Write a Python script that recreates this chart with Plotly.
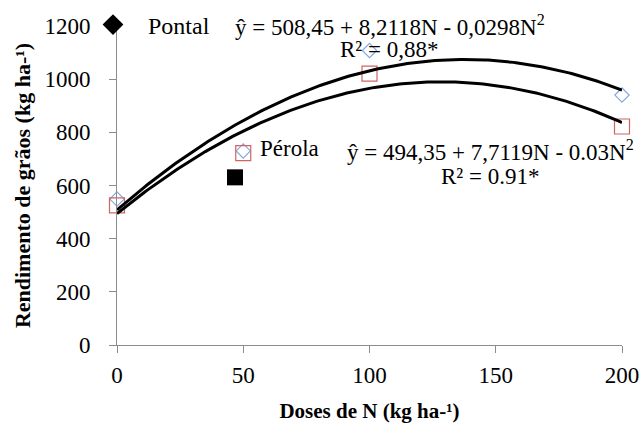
import numpy as np
import plotly.graph_objects as go

# ---- data ----
doses = [0, 50, 100, 200]
pontal = [549, 730, 1108, 940]
perola = [525, 722, 1021, 822]
pontal_coef = [508.45, 8.2118, -0.0298]   # y = a + bN + cN^2
perola_coef = [494.35, 7.7119, -0.03]
x_ticks = [0, 50, 100, 150, 200]
y_ticks = [0, 200, 400, 600, 800, 1000, 1200]

FONT = "Liberation Serif, Times New Roman, serif"
AX = "#8c8c8c"

n_curve = np.linspace(0, 200, 201)


def quad(c, n):
    return c[0] + c[1] * n + c[2] * n ** 2


fig = go.Figure()

# observed points
fig.add_trace(go.Scatter(
    x=doses, y=pontal, mode="markers", showlegend=False, cliponaxis=False,
    marker=dict(symbol="diamond-open", size=11, color="#86a8dc",
                line=dict(width=1.2, color="#86a8dc"))))
fig.add_trace(go.Scatter(
    x=doses, y=perola, mode="markers", showlegend=False, cliponaxis=False,
    marker=dict(symbol="square-open", size=15, color="#d06464",
                line=dict(width=1.2, color="#d06464"))))

# fitted curves
fig.add_trace(go.Scatter(x=n_curve, y=quad(pontal_coef, n_curve), mode="lines",
                         showlegend=False, line=dict(color="black", width=3)))
fig.add_trace(go.Scatter(x=n_curve, y=quad(perola_coef, n_curve), mode="lines",
                         showlegend=False, line=dict(color="black", width=3)))

# legend keys
fig.add_trace(go.Scatter(x=[None], y=[None], mode="markers", name="Pontal",
                         legend="legend",
                         marker=dict(symbol="diamond", size=16, color="black")))
fig.add_trace(go.Scatter(x=[None], y=[None], mode="markers",
                         name="Pérola<br>&nbsp;", legend="legend2",
                         marker=dict(symbol="square", size=16, color="black")))

W, H = 641, 423
L, R, T, B = 117, 19, 26, 78
pw, ph = W - L - R, H - T - B


def px(x):
    return (x - L) / pw


def py(y):
    return (H - B - y) / ph


fsz = 23
fig.update_layout(
    width=W, height=H,
    margin=dict(l=L, r=R, t=T, b=B, autoexpand=False),
    paper_bgcolor="white", plot_bgcolor="white",
    font=dict(family=FONT, size=fsz, color="black"),
    legend=dict(x=px(78), y=py(25), xanchor="left", yanchor="middle",
                itemwidth=60, bgcolor="rgba(0,0,0,0)",
                font=dict(family=FONT, size=24, color="black")),
    legend2=dict(x=px(210), y=py(126), xanchor="left", yanchor="top",
                 itemwidth=40, valign="bottom", bgcolor="rgba(0,0,0,0)",
                 font=dict(family=FONT, size=fsz, color="black")),
    xaxis=dict(range=[0, 200], tickvals=x_ticks, showgrid=False, zeroline=False,
               showline=True, linecolor=AX, linewidth=1, automargin=False,
               ticks="outside", ticklen=7, tickcolor=AX, ticklabelstandoff=2,
               tickfont=dict(family=FONT, size=fsz, color="black"),
               title=dict(text="<b>Doses de N (kg ha-¹)</b>", standoff=17,
                          font=dict(family=FONT, size=21, color="black"))),
    yaxis=dict(range=[0, 1200], tickvals=y_ticks, showgrid=False, zeroline=False,
               showline=True, linecolor=AX, linewidth=1, automargin=False,
               ticks="outside", ticklen=7, tickcolor=AX, ticklabelstandoff=14,
               tickfont=dict(family=FONT, size=fsz, color="black"),
               title=dict(text="<b>Rendimento de grãos (kg ha-¹)</b>", standoff=7,
                          font=dict(family=FONT, size=22, color="black"))),
)

ann = [
    ("ŷ = 508,45 + 8,2118N - 0,0298N<sup>2</sup>", 233, 25, "left"),
    ("R² = 0,88*", 389, 50, "center"),
    ("ŷ = 494,35 + 7,7119N - 0.03N<sup>2</sup>", 345, 150, "left"),
    ("R² = 0.91*", 490, 176, "center"),
]
for text, x, y, xa in ann:
    fig.add_annotation(text=text, x=px(x), y=py(y), xref="paper", yref="paper",
                       xanchor=xa, yanchor="middle", showarrow=False,
                       font=dict(family=FONT, size=fsz, color="black"))

fig.write_html("out.html")
